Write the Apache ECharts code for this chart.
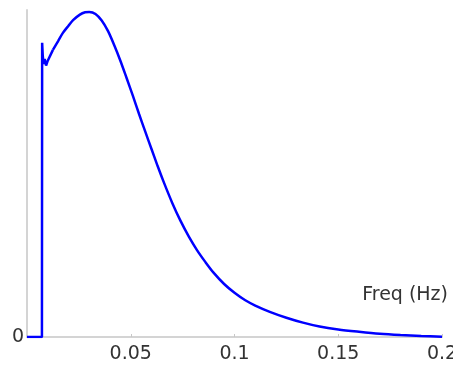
<!DOCTYPE html>
<html>
<head>
<meta charset="utf-8">
<style>html,body{margin:0;padding:0;background:#fff}#c{width:453px;height:367px}</style>
<script src="https://cdn.jsdelivr.net/npm/echarts@6/dist/echarts.min.js"></script>
</head>
<body>
<div id="c"></div>
<script>
const freq = [0, 0.0072, 0.0073, 0.0076, 0.0080, 0.0085, 0.0092, 0.0100, 0.0125, 0.0150, 0.0173, 0.0200, 0.0222, 0.0255, 0.0280, 0.0300, 0.0330, 0.0360, 0.0390, 0.0420, 0.0450, 0.0480, 0.0510, 0.0540, 0.0570, 0.0600, 0.0630, 0.0660, 0.0700, 0.0740, 0.0780, 0.0820, 0.0860, 0.0900, 0.0950, 0.1000, 0.1050, 0.1100, 0.1170, 0.1250, 0.1330, 0.1410, 0.1500, 0.1600, 0.1700, 0.1800, 0.1900, 0.2000];
const power = [0, 0, 0.900, 0.860, 0.835, 0.850, 0.830, 0.845, 0.878, 0.905, 0.930, 0.952, 0.969, 0.986, 0.993, 0.994, 0.988, 0.968, 0.936, 0.893, 0.845, 0.792, 0.738, 0.682, 0.628, 0.575, 0.522, 0.472, 0.410, 0.355, 0.307, 0.265, 0.229, 0.196, 0.162, 0.135, 0.113, 0.096, 0.077, 0.059, 0.044, 0.032, 0.023, 0.016, 0.010, 0.006, 0.003, 0.001];
const xTicks = [0.05, 0.1, 0.15, 0.2];
const xName = 'Freq (Hz)';

const pts = freq.map((f, i) => [f, power[i]]);
const onsetEnd = 8; // index where the noisy onset ends and the smooth spectrum begins

const chart = echarts.init(document.getElementById('c'), null, {renderer: 'canvas'});
const font = 'DejaVu Sans';
chart.setOption({
  animation: false,
  backgroundColor: '#ffffff',
  grid: {left: 27, right: 11, top: 10, bottom: 30, containLabel: false, outerBoundsMode: 'none'},
  xAxis: {
    type: 'value', min: 0, max: 0.2, interval: 0.05,
    name: xName, nameLocation: 'end', nameGap: 6,
    nameTextStyle: {fontFamily: font, fontSize: 19, color: '#333', align: 'right', verticalAlign: 'bottom', padding: [0, 0, 32, 0]},
    axisLine: {lineStyle: {color: '#d4d4d4', width: 2}},
    axisTick: {show: true, inside: true, length: 3, lineStyle: {color: '#c8c8c8'}},
    splitLine: {show: false},
    axisLabel: {
      showMinLabel: false, margin: 8, fontFamily: font, fontSize: 19, color: '#333', hideOverlap: false,
      formatter: v => xTicks.some(t => Math.abs(t - v) < 1e-9) ? String(+v.toFixed(2)) : ''
    }
  },
  yAxis: {
    type: 'value', min: 0, max: 1, interval: 1,
    axisLine: {show: true, lineStyle: {color: '#d4d4d4', width: 2}},
    axisTick: {show: false},
    splitLine: {show: false},
    axisLabel: {margin: 3, fontFamily: font, fontSize: 19, color: '#333', formatter: v => v === 0 ? '0' : ''}
  },
  series: [{
    type: 'line', showSymbol: false, smooth: false,
    lineStyle: {color: '#0000ff', width: 2.5},
    data: pts.slice(0, onsetEnd + 1)
  }, {
    type: 'line', showSymbol: false, smooth: 0.3,
    lineStyle: {color: '#0000ff', width: 2.5},
    data: pts.slice(onsetEnd)
  }]
});
</script>
</body>
</html>
